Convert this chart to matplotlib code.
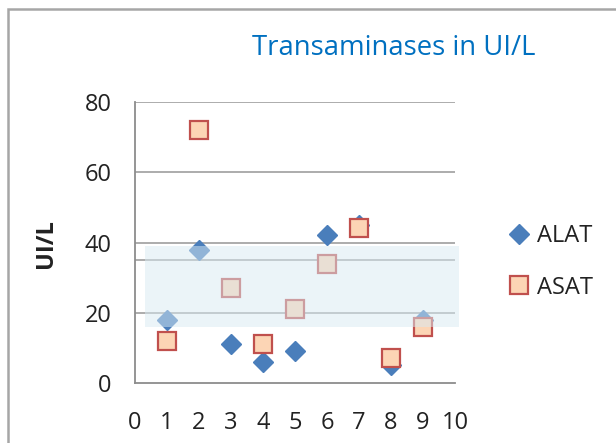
import matplotlib
matplotlib.use("Agg")
import matplotlib.pyplot as plt
from matplotlib.patches import Rectangle

plt.rcParams['font.family'] = ['Open Sans', 'DejaVu Sans']

# Data
x_vals = [1, 2, 3, 4, 5, 6, 7, 8, 9]
alat = [18, 38, 11, 6, 9, 42, 45, 5, 18]
asat = [12, 72, 27, 11, 21, 34, 44, 7, 16]
x_ticks = list(range(0, 11))
y_ticks = [0, 20, 40, 60, 80]
band_low, band_high = 16, 39
band_x0, band_x1 = 0.3, 10.13
upper_line = 35

W, H = 616, 443
fig = plt.figure(figsize=(W / 100, H / 100), dpi=100)
ax = fig.add_axes([135 / W, 1 - 383 / H, 320 / W, 281 / H])

ax.set_xlim(0, 10)
ax.set_ylim(0, 80)

# gridlines
for yv in y_ticks[1:]:
    ax.axhline(yv, color='#a6a6a6', lw=1.3, zorder=1)
ax.axhline(upper_line, color='#a6a6a6', lw=1.3, zorder=1)

ax.plot(x_vals, alat, linestyle='none', marker='D', ms=10, color='#4a7ebb',
        mec='#4a7ebb', zorder=3, label='ALAT')
ax.plot(x_vals, asat, linestyle='none', marker='s', ms=13, mfc='#fcd5b5',
        mec='#c0504d', mew=1.6, zorder=4, label='ASAT')

band = Rectangle((band_x0, band_low), band_x1 - band_x0, band_high - band_low,
                 facecolor='#d8eaf3', alpha=0.5, edgecolor='none', zorder=5,
                 clip_on=False)
ax.add_patch(band)

for s in ['top', 'right']:
    ax.spines[s].set_visible(False)
ax.spines['left'].set_color('#8c8c8c')
ax.spines['bottom'].set_color('#8c8c8c')
ax.spines['left'].set_linewidth(1.3)
ax.spines['bottom'].set_linewidth(1.3)

ax.set_xticks(x_ticks)
ax.set_yticks(y_ticks)
ax.tick_params(axis='both', length=0, labelsize=17, colors='#222222')
ax.tick_params(axis='y', pad=17)
ax.tick_params(axis='x', pad=20)

ax.set_ylabel('UI/L', fontsize=17, fontweight='bold', color='#222222')
ax.yaxis.set_label_coords(58 / W, 1 - 244 / H, transform=fig.transFigure)

fig.text(394 / W, 1 - 48 / H, 'Transaminases in UI/L', color='#0070c0',
         fontsize=19.8, ha='center', va='center')

leg = ax.legend(loc='center left', bbox_to_anchor=(497 / W, 1 - 262 / H),
                bbox_transform=fig.transFigure, frameon=False, fontsize=17,
                handlelength=0.9, handletextpad=0.3, labelspacing=1.15,
                borderpad=0)
for t in leg.get_texts():
    t.set_color('#222222')

# chart border
fig.add_artist(Rectangle((8 / W, -0.1), 1.2, 1 - 9 / H + 0.1,
                         transform=fig.transFigure, fill=False,
                         edgecolor='#a6a6a6', lw=1.8))

fig.savefig('out.png', dpi=100)
